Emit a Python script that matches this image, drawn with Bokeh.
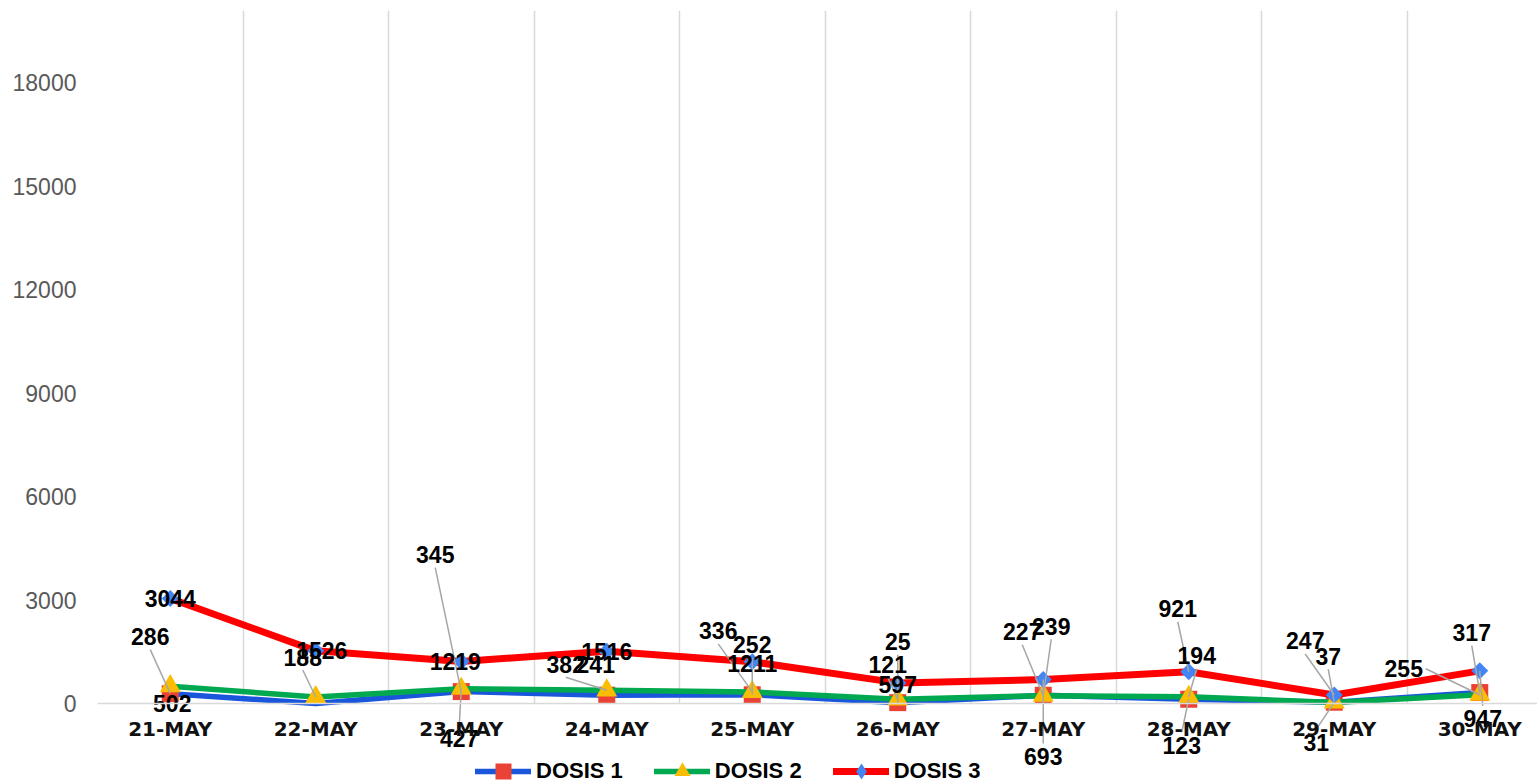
import math
from bokeh.plotting import figure
from bokeh.models import FixedTicker, Legend, LegendItem, Range1d
from bokeh.embed import file_html
from bokeh.resources import INLINE
from bokeh.core.properties import value

# ---------------- data ----------------
dates = ["21-MAY", "22-MAY", "23-MAY", "24-MAY", "25-MAY",
         "26-MAY", "27-MAY", "28-MAY", "29-MAY", "30-MAY"]
dosis1 = [286, 0, 345, 241, 252, 25, 239, 123, 37, 317]
dosis2 = [502, 188, 427, 382, 336, 121, 227, 194, 31, 255]
dosis3 = [3044, 1526, 1219, 1516, 1211, 597, 693, 921, 247, 947]
y_ticks = [0, 3000, 6000, 9000, 12000, 15000, 18000]

# data-label placement (pixel offsets: right, down); None = no label shown
off1 = [(-20, -57), None, (-26, -137), (-11, -31), (0, -50), (0, -61), (8, -69), (-7, 46), (-6, -46), (-8, -60)]
off2 = [(2, 17), (-13, -40), (-2, 50), (-41, -26), (-34, -61), (-10, -35), (-21, -64), (8, -41), (-18, 40), (-76, -26)]
off3 = [(0, 0), (6, 0), (-6, 0), (0, 0), (0, 2), (0, 2), (0, 77), (-11, -63), (-29, -54), (3, 48)]

# ---------------- geometry ----------------
FIG_W, FIG_H = 1537, 782
LEFT, TOP = 97, 10
ZERO_Y = 703                      # pixel row of value 0
FRAME_W = FIG_W - LEFT
PX_PER_X = 145.5
PX_PER_Y = 103.5 / 3000
x0 = -0.5
x1 = x0 + FRAME_W / PX_PER_X
y_top = (ZERO_Y - TOP) / PX_PER_Y
y_bot = -(FIG_H - ZERO_Y) / PX_PER_Y

p = figure(width=FIG_W, height=FIG_H,
           x_range=Range1d(x0, x1), y_range=Range1d(y_bot, y_top),
           output_backend="svg", toolbar_location=None, title=None,
           min_border_left=LEFT, min_border_right=0,
           min_border_top=TOP, min_border_bottom=0)
p.outline_line_color = None
p.background_fill_color = "white"
p.border_fill_color = "white"

# axes
xs = list(range(len(dates)))
p.xaxis.fixed_location = 0
p.xaxis.ticker = FixedTicker(ticks=xs)
p.xaxis.major_label_overrides = {i: d for i, d in enumerate(dates)}
p.xaxis.axis_line_color = "#D9D9D9"
p.xaxis.axis_line_width = 1.5
p.xaxis.major_tick_line_color = None
p.xaxis.minor_tick_line_color = None
p.xaxis.major_label_standoff = 7
p.xaxis.major_label_text_font = "DejaVu Sans"
p.xaxis.major_label_text_font_style = "bold"
p.xaxis.major_label_text_font_size = "20px"
p.xaxis.major_label_text_color = "#111111"

p.yaxis.ticker = FixedTicker(ticks=y_ticks)
p.yaxis.axis_line_color = None
p.yaxis.major_tick_line_color = None
p.yaxis.minor_tick_line_color = None
p.yaxis.major_label_standoff = 15
p.yaxis.major_label_text_font = "Liberation Sans"
p.yaxis.major_label_text_font_size = "23px"
p.yaxis.major_label_text_color = "#595959"

p.ygrid.grid_line_color = None
p.xgrid.ticker = FixedTicker(ticks=[i - 0.5 for i in range(len(dates) + 1)])
p.xgrid.cross_bounds = (0, y_top)
p.xgrid.grid_line_color = "#D9D9D9"
p.xgrid.grid_line_width = 1.5

# series (a zero value gets no marker, as in the reference)
m1 = [v if v > 0 else float("nan") for v in dosis1]
l1 = p.line(xs, dosis1, line_color="#1A56DB", line_width=5.5, line_join="round", line_cap="round")
s1 = p.scatter(xs, m1, marker="square", size=17, fill_color="#EA4335", line_color=None)
l2 = p.line(xs, dosis2, line_color="#00A94F", line_width=5.5, line_join="round", line_cap="round")
s2 = p.scatter(xs, dosis2, marker="triangle", size=21, fill_color="#FBBC04", line_color=None)
l3 = p.line(xs, dosis3, line_color="#FF0000", line_width=7, line_join="round", line_cap="round")
s3 = p.scatter(xs, dosis3, marker="square", angle=math.pi / 4, size=12, fill_color="#4285F4", line_color=None)
# diamond glyph used only for the legend key
s3_key = p.scatter(xs, dosis3, marker="diamond", size=18, fill_color="#4285F4", line_color=None, visible=False)

# data labels + leader lines
lab_x, lab_y, lab_t = [], [], []
sx0, sy0, sx1, sy1 = [], [], [], []
for vals, offs in ((dosis1, off1), (dosis2, off2), (dosis3, off3)):
    for i, (v, o) in enumerate(zip(vals, offs)):
        if o is None:
            continue
        dx, dy = o
        lab_x.append(i + dx / PX_PER_X)
        lab_y.append(v - dy / PX_PER_Y)
        lab_t.append(str(v))
        if math.hypot(dx, dy) > 35:
            if abs(dx) > 2 * abs(dy):
                ex = dx + (22 if dx < 0 else -22)
                ey = dy
            else:
                ex = dx
                ey = dy + (13 if dy < 0 else -13)
            sx0.append(i + ex / PX_PER_X)
            sy0.append(v - ey / PX_PER_Y)
            sx1.append(i)
            sy1.append(v)

p.segment(sx0, sy0, sx1, sy1, line_color="#A6A6A6", line_width=1.5)
p.text(lab_x, lab_y, text=lab_t, text_font=value("Liberation Sans"),
       text_font_style="bold", text_font_size="23px", text_color="#000000",
       text_align="center", text_baseline="middle")

legend = Legend(items=[LegendItem(label="DOSIS 1", renderers=[l1, s1]),
                       LegendItem(label="DOSIS 2", renderers=[l2, s2]),
                       LegendItem(label="DOSIS 3", renderers=[l3, s3_key])],
                location=(378, -9), orientation="horizontal",
                border_line_color=None, background_fill_alpha=0,
                padding=0, margin=0, spacing=31, label_standoff=5,
                glyph_width=56, glyph_height=40,
                label_text_font="Liberation Sans", label_text_font_style="bold",
                label_text_font_size="22px", label_text_color="#000000")
p.add_layout(legend)

open("out.html", "w").write(file_html(p, INLINE))
